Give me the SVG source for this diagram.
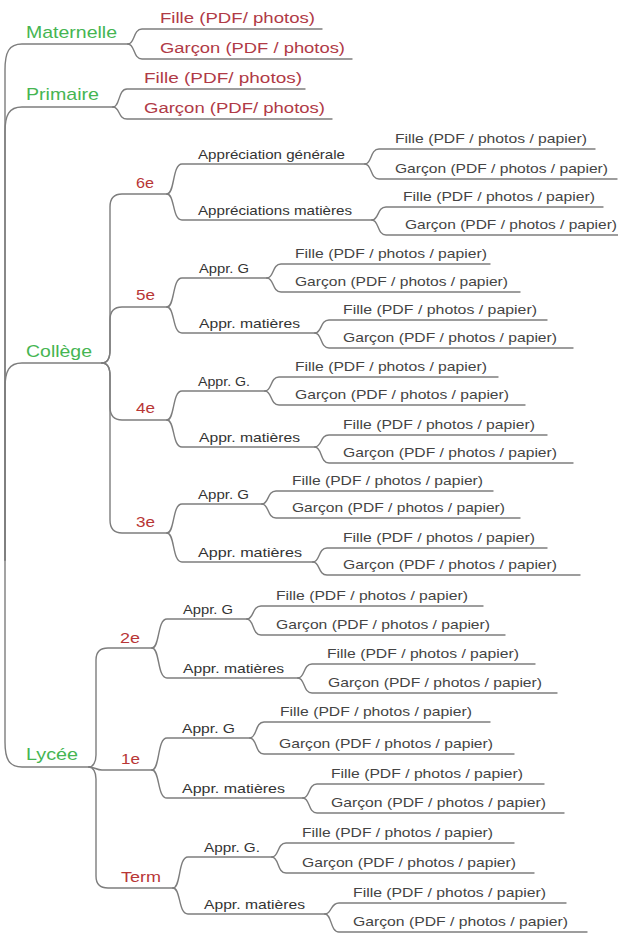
<svg xmlns="http://www.w3.org/2000/svg" width="618" height="937" viewBox="0 0 618 937">
<style>
text{font-family:"Liberation Sans",Arial,sans-serif}
.top{font-size:17px;fill:#45b552}
.red{font-size:15.5px;fill:#b03a46}
.l2{font-size:15px;fill:#b83636}
.l3{font-size:13px;fill:#333}
.leaf{font-size:13.5px;fill:#444}
.conn path{fill:none;stroke:#7d7d7d;stroke-width:1.4;stroke-linecap:round}
</style>
<rect width="618" height="937" fill="#fff"/>
<g id="connectors" class="conn">
<path d="M5 560 V70 C5 52 9 44 22 44 H128"/>
<path d="M128 44 C135 44 133 29 142 29 H322"/>
<path d="M128 44 C135 44 133 59 142 59 H352"/>
<path d="M5 560 V132 C5 115 9 107 22 107 H113"/>
<path d="M113 107 C120 107 118 89 127 89 H305"/>
<path d="M113 107 C120 107 118 119 127 119 H332"/>
<path d="M5 560 V388 C5 371 9 363 22 363 H102"/>
<path d="M5 560 V742 C5 759 9 767 22 767 H89"/>
<path d="M102 363 C108 363 110 358 110 350 V207 C110 199 114 194 122 194 H167"/>
<path d="M102 363 C108 363 110 358 110 350 V320 C110 312 114 307 122 307 H167"/>
<path d="M102 363 C108 363 110 368 110 376 V407 C110 415 114 420 122 420 H167"/>
<path d="M102 363 C108 363 110 368 110 376 V520 C110 528 114 533 122 533 H167"/>
<path d="M167 194 C175 194 172 164 182 164 H365"/>
<path d="M365 164 C372 164 370 149 379 149 H595"/>
<path d="M365 164 C372 164 370 179 379 179 H617"/>
<path d="M167 194 C175 194 172 220 182 220 H372"/>
<path d="M372 220 C379 220 377 207 386 207 H603"/>
<path d="M372 220 C379 220 377 235 386 235 H618"/>
<path d="M167 307 C175 307 172 278 182 278 H267"/>
<path d="M267 278 C274 278 272 264 281 264 H490"/>
<path d="M267 278 C274 278 272 292 281 292 H520"/>
<path d="M167 307 C175 307 172 333 182 333 H315"/>
<path d="M315 333 C322 333 320 320 329 320 H547"/>
<path d="M315 333 C322 333 320 348 329 348 H573"/>
<path d="M167 420 C175 420 172 391 182 391 H265"/>
<path d="M265 391 C272 391 270 377 279 377 H498"/>
<path d="M265 391 C272 391 270 405 279 405 H525"/>
<path d="M167 420 C175 420 172 447 182 447 H315"/>
<path d="M315 447 C322 447 320 435 329 435 H547"/>
<path d="M315 447 C322 447 320 463 329 463 H573"/>
<path d="M167 533 C175 533 172 504 182 504 H262"/>
<path d="M262 504 C269 504 267 491 276 491 H493"/>
<path d="M262 504 C269 504 267 518 276 518 H520"/>
<path d="M167 533 C175 533 172 562 182 562 H313"/>
<path d="M313 562 C320 562 318 548 327 548 H547"/>
<path d="M313 562 C320 562 318 575 327 575 H580"/>
<path d="M89 767 C93 767 96 762 96 755 V660 C96 652 100 648 108 648 H152"/>
<path d="M89 767 C95 767 96 770 102 770 H152"/>
<path d="M89 767 C93 767 96 772 96 779 V876 C96 884 100 888 108 888 H173"/>
<path d="M152 648 C160 648 157 619 167 619 H247"/>
<path d="M247 619 C254 619 252 606 261 606 H483"/>
<path d="M247 619 C254 619 252 635 261 635 H505"/>
<path d="M152 648 C160 648 157 678 167 678 H298"/>
<path d="M298 678 C305 678 303 664 312 664 H535"/>
<path d="M298 678 C305 678 303 693 312 693 H557"/>
<path d="M152 770 C160 770 157 738 167 738 H250"/>
<path d="M250 738 C257 738 255 722 264 722 H490"/>
<path d="M250 738 C257 738 255 754 264 754 H514"/>
<path d="M152 770 C160 770 157 798 167 798 H303"/>
<path d="M303 798 C310 798 308 784 317 784 H544"/>
<path d="M303 798 C310 798 308 813 317 813 H564"/>
<path d="M173 888 C181 888 178 857 188 857 H272"/>
<path d="M272 857 C279 857 277 843 286 843 H514"/>
<path d="M272 857 C279 857 277 873 286 873 H534"/>
<path d="M173 888 C181 888 178 914 188 914 H325"/>
<path d="M325 914 C332 914 330 903 339 903 H566"/>
<path d="M325 914 C332 914 330 932 339 932 H587"/>
</g>
<g id="n-maternelle"><text class="top" x="26" y="38" textLength="91" lengthAdjust="spacingAndGlyphs">Maternelle</text></g>
<g id="n-mat-fille"><text class="red" x="160" y="23" textLength="155" lengthAdjust="spacingAndGlyphs">Fille (PDF/ photos)</text></g>
<g id="n-mat-garcon"><text class="red" x="160" y="53" textLength="185" lengthAdjust="spacingAndGlyphs">Garçon (PDF / photos)</text></g>
<g id="n-primaire"><text class="top" x="26" y="100" textLength="73" lengthAdjust="spacingAndGlyphs">Primaire</text></g>
<g id="n-pri-fille"><text class="red" x="144" y="83" textLength="158" lengthAdjust="spacingAndGlyphs">Fille (PDF/ photos)</text></g>
<g id="n-pri-garcon"><text class="red" x="144" y="113" textLength="181" lengthAdjust="spacingAndGlyphs">Garçon (PDF/ photos)</text></g>
<g id="n-college"><text class="top" x="26" y="357" textLength="66" lengthAdjust="spacingAndGlyphs">Collège</text></g>
<g id="n-6e"><text class="l2" x="136" y="188" textLength="18" lengthAdjust="spacingAndGlyphs">6e</text></g>
<g id="n-6e-ag"><text class="l3" x="198" y="159" textLength="147" lengthAdjust="spacingAndGlyphs">Appréciation générale</text></g>
<g id="n-6e-ag-f"><text class="leaf" x="395" y="143" textLength="192" lengthAdjust="spacingAndGlyphs">Fille (PDF / photos / papier)</text></g>
<g id="n-6e-ag-g"><text class="leaf" x="395" y="173" textLength="213" lengthAdjust="spacingAndGlyphs">Garçon (PDF / photos / papier)</text></g>
<g id="n-6e-am"><text class="l3" x="198" y="215" textLength="154" lengthAdjust="spacingAndGlyphs">Appréciations matières</text></g>
<g id="n-6e-am-f"><text class="leaf" x="403" y="201" textLength="192" lengthAdjust="spacingAndGlyphs">Fille (PDF / photos / papier)</text></g>
<g id="n-6e-am-g"><text class="leaf" x="405" y="229" textLength="212" lengthAdjust="spacingAndGlyphs">Garçon (PDF / photos / papier)</text></g>
<g id="n-5e"><text class="l2" x="136" y="300" textLength="19" lengthAdjust="spacingAndGlyphs">5e</text></g>
<g id="n-5e-ag"><text class="l3" x="199" y="273" textLength="50" lengthAdjust="spacingAndGlyphs">Appr. G</text></g>
<g id="n-5e-ag-f"><text class="leaf" x="295" y="258" textLength="192" lengthAdjust="spacingAndGlyphs">Fille (PDF / photos / papier)</text></g>
<g id="n-5e-ag-g"><text class="leaf" x="295" y="286" textLength="213" lengthAdjust="spacingAndGlyphs">Garçon (PDF / photos / papier)</text></g>
<g id="n-5e-am"><text class="l3" x="199" y="328" textLength="101" lengthAdjust="spacingAndGlyphs">Appr. matières</text></g>
<g id="n-5e-am-f"><text class="leaf" x="343" y="314" textLength="194" lengthAdjust="spacingAndGlyphs">Fille (PDF / photos / papier)</text></g>
<g id="n-5e-am-g"><text class="leaf" x="343" y="342" textLength="214" lengthAdjust="spacingAndGlyphs">Garçon (PDF / photos / papier)</text></g>
<g id="n-4e"><text class="l2" x="136" y="413" textLength="19" lengthAdjust="spacingAndGlyphs">4e</text></g>
<g id="n-4e-ag"><text class="l3" x="198" y="386" textLength="52" lengthAdjust="spacingAndGlyphs">Appr. G.</text></g>
<g id="n-4e-ag-f"><text class="leaf" x="295" y="371" textLength="192" lengthAdjust="spacingAndGlyphs">Fille (PDF / photos / papier)</text></g>
<g id="n-4e-ag-g"><text class="leaf" x="295" y="399" textLength="214" lengthAdjust="spacingAndGlyphs">Garçon (PDF / photos / papier)</text></g>
<g id="n-4e-am"><text class="l3" x="199" y="442" textLength="101" lengthAdjust="spacingAndGlyphs">Appr. matières</text></g>
<g id="n-4e-am-f"><text class="leaf" x="343" y="429" textLength="192" lengthAdjust="spacingAndGlyphs">Fille (PDF / photos / papier)</text></g>
<g id="n-4e-am-g"><text class="leaf" x="343" y="457" textLength="214" lengthAdjust="spacingAndGlyphs">Garçon (PDF / photos / papier)</text></g>
<g id="n-3e"><text class="l2" x="136" y="527" textLength="19" lengthAdjust="spacingAndGlyphs">3e</text></g>
<g id="n-3e-ag"><text class="l3" x="198" y="499" textLength="51" lengthAdjust="spacingAndGlyphs">Appr. G</text></g>
<g id="n-3e-ag-f"><text class="leaf" x="292" y="485" textLength="191" lengthAdjust="spacingAndGlyphs">Fille (PDF / photos / papier)</text></g>
<g id="n-3e-ag-g"><text class="leaf" x="292" y="512" textLength="213" lengthAdjust="spacingAndGlyphs">Garçon (PDF / photos / papier)</text></g>
<g id="n-3e-am"><text class="l3" x="198" y="557" textLength="104" lengthAdjust="spacingAndGlyphs">Appr. matières</text></g>
<g id="n-3e-am-f"><text class="leaf" x="343" y="542" textLength="192" lengthAdjust="spacingAndGlyphs">Fille (PDF / photos / papier)</text></g>
<g id="n-3e-am-g"><text class="leaf" x="343" y="569" textLength="214" lengthAdjust="spacingAndGlyphs">Garçon (PDF / photos / papier)</text></g>
<g id="n-lycee"><text class="top" x="26" y="760" textLength="52" lengthAdjust="spacingAndGlyphs">Lycée</text></g>
<g id="n-2e"><text class="l2" x="120" y="643" textLength="20" lengthAdjust="spacingAndGlyphs">2e</text></g>
<g id="n-2e-ag"><text class="l3" x="183" y="614" textLength="50" lengthAdjust="spacingAndGlyphs">Appr. G</text></g>
<g id="n-2e-ag-f"><text class="leaf" x="276" y="600" textLength="192" lengthAdjust="spacingAndGlyphs">Fille (PDF / photos / papier)</text></g>
<g id="n-2e-ag-g"><text class="leaf" x="276" y="629" textLength="214" lengthAdjust="spacingAndGlyphs">Garçon (PDF / photos / papier)</text></g>
<g id="n-2e-am"><text class="l3" x="183" y="673" textLength="101" lengthAdjust="spacingAndGlyphs">Appr. matières</text></g>
<g id="n-2e-am-f"><text class="leaf" x="327" y="658" textLength="192" lengthAdjust="spacingAndGlyphs">Fille (PDF / photos / papier)</text></g>
<g id="n-2e-am-g"><text class="leaf" x="328" y="687" textLength="214" lengthAdjust="spacingAndGlyphs">Garçon (PDF / photos / papier)</text></g>
<g id="n-1e"><text class="l2" x="121" y="764" textLength="19" lengthAdjust="spacingAndGlyphs">1e</text></g>
<g id="n-1e-ag"><text class="l3" x="182" y="733" textLength="53" lengthAdjust="spacingAndGlyphs">Appr. G</text></g>
<g id="n-1e-ag-f"><text class="leaf" x="280" y="716" textLength="192" lengthAdjust="spacingAndGlyphs">Fille (PDF / photos / papier)</text></g>
<g id="n-1e-ag-g"><text class="leaf" x="279" y="748" textLength="214" lengthAdjust="spacingAndGlyphs">Garçon (PDF / photos / papier)</text></g>
<g id="n-1e-am"><text class="l3" x="182" y="793" textLength="103" lengthAdjust="spacingAndGlyphs">Appr. matières</text></g>
<g id="n-1e-am-f"><text class="leaf" x="331" y="778" textLength="192" lengthAdjust="spacingAndGlyphs">Fille (PDF / photos / papier)</text></g>
<g id="n-1e-am-g"><text class="leaf" x="331" y="807" textLength="215" lengthAdjust="spacingAndGlyphs">Garçon (PDF / photos / papier)</text></g>
<g id="n-term"><text class="l2" x="121" y="882" textLength="40" lengthAdjust="spacingAndGlyphs">Term</text></g>
<g id="n-term-ag"><text class="l3" x="204" y="852" textLength="56" lengthAdjust="spacingAndGlyphs">Appr. G.</text></g>
<g id="n-term-ag-f"><text class="leaf" x="302" y="837" textLength="191" lengthAdjust="spacingAndGlyphs">Fille (PDF / photos / papier)</text></g>
<g id="n-term-ag-g"><text class="leaf" x="302" y="867" textLength="214" lengthAdjust="spacingAndGlyphs">Garçon (PDF / photos / papier)</text></g>
<g id="n-term-am"><text class="l3" x="204" y="909" textLength="101" lengthAdjust="spacingAndGlyphs">Appr. matières</text></g>
<g id="n-term-am-f"><text class="leaf" x="353" y="897" textLength="193" lengthAdjust="spacingAndGlyphs">Fille (PDF / photos / papier)</text></g>
<g id="n-term-am-g"><text class="leaf" x="353" y="926" textLength="215" lengthAdjust="spacingAndGlyphs">Garçon (PDF / photos / papier)</text></g>
</svg>
